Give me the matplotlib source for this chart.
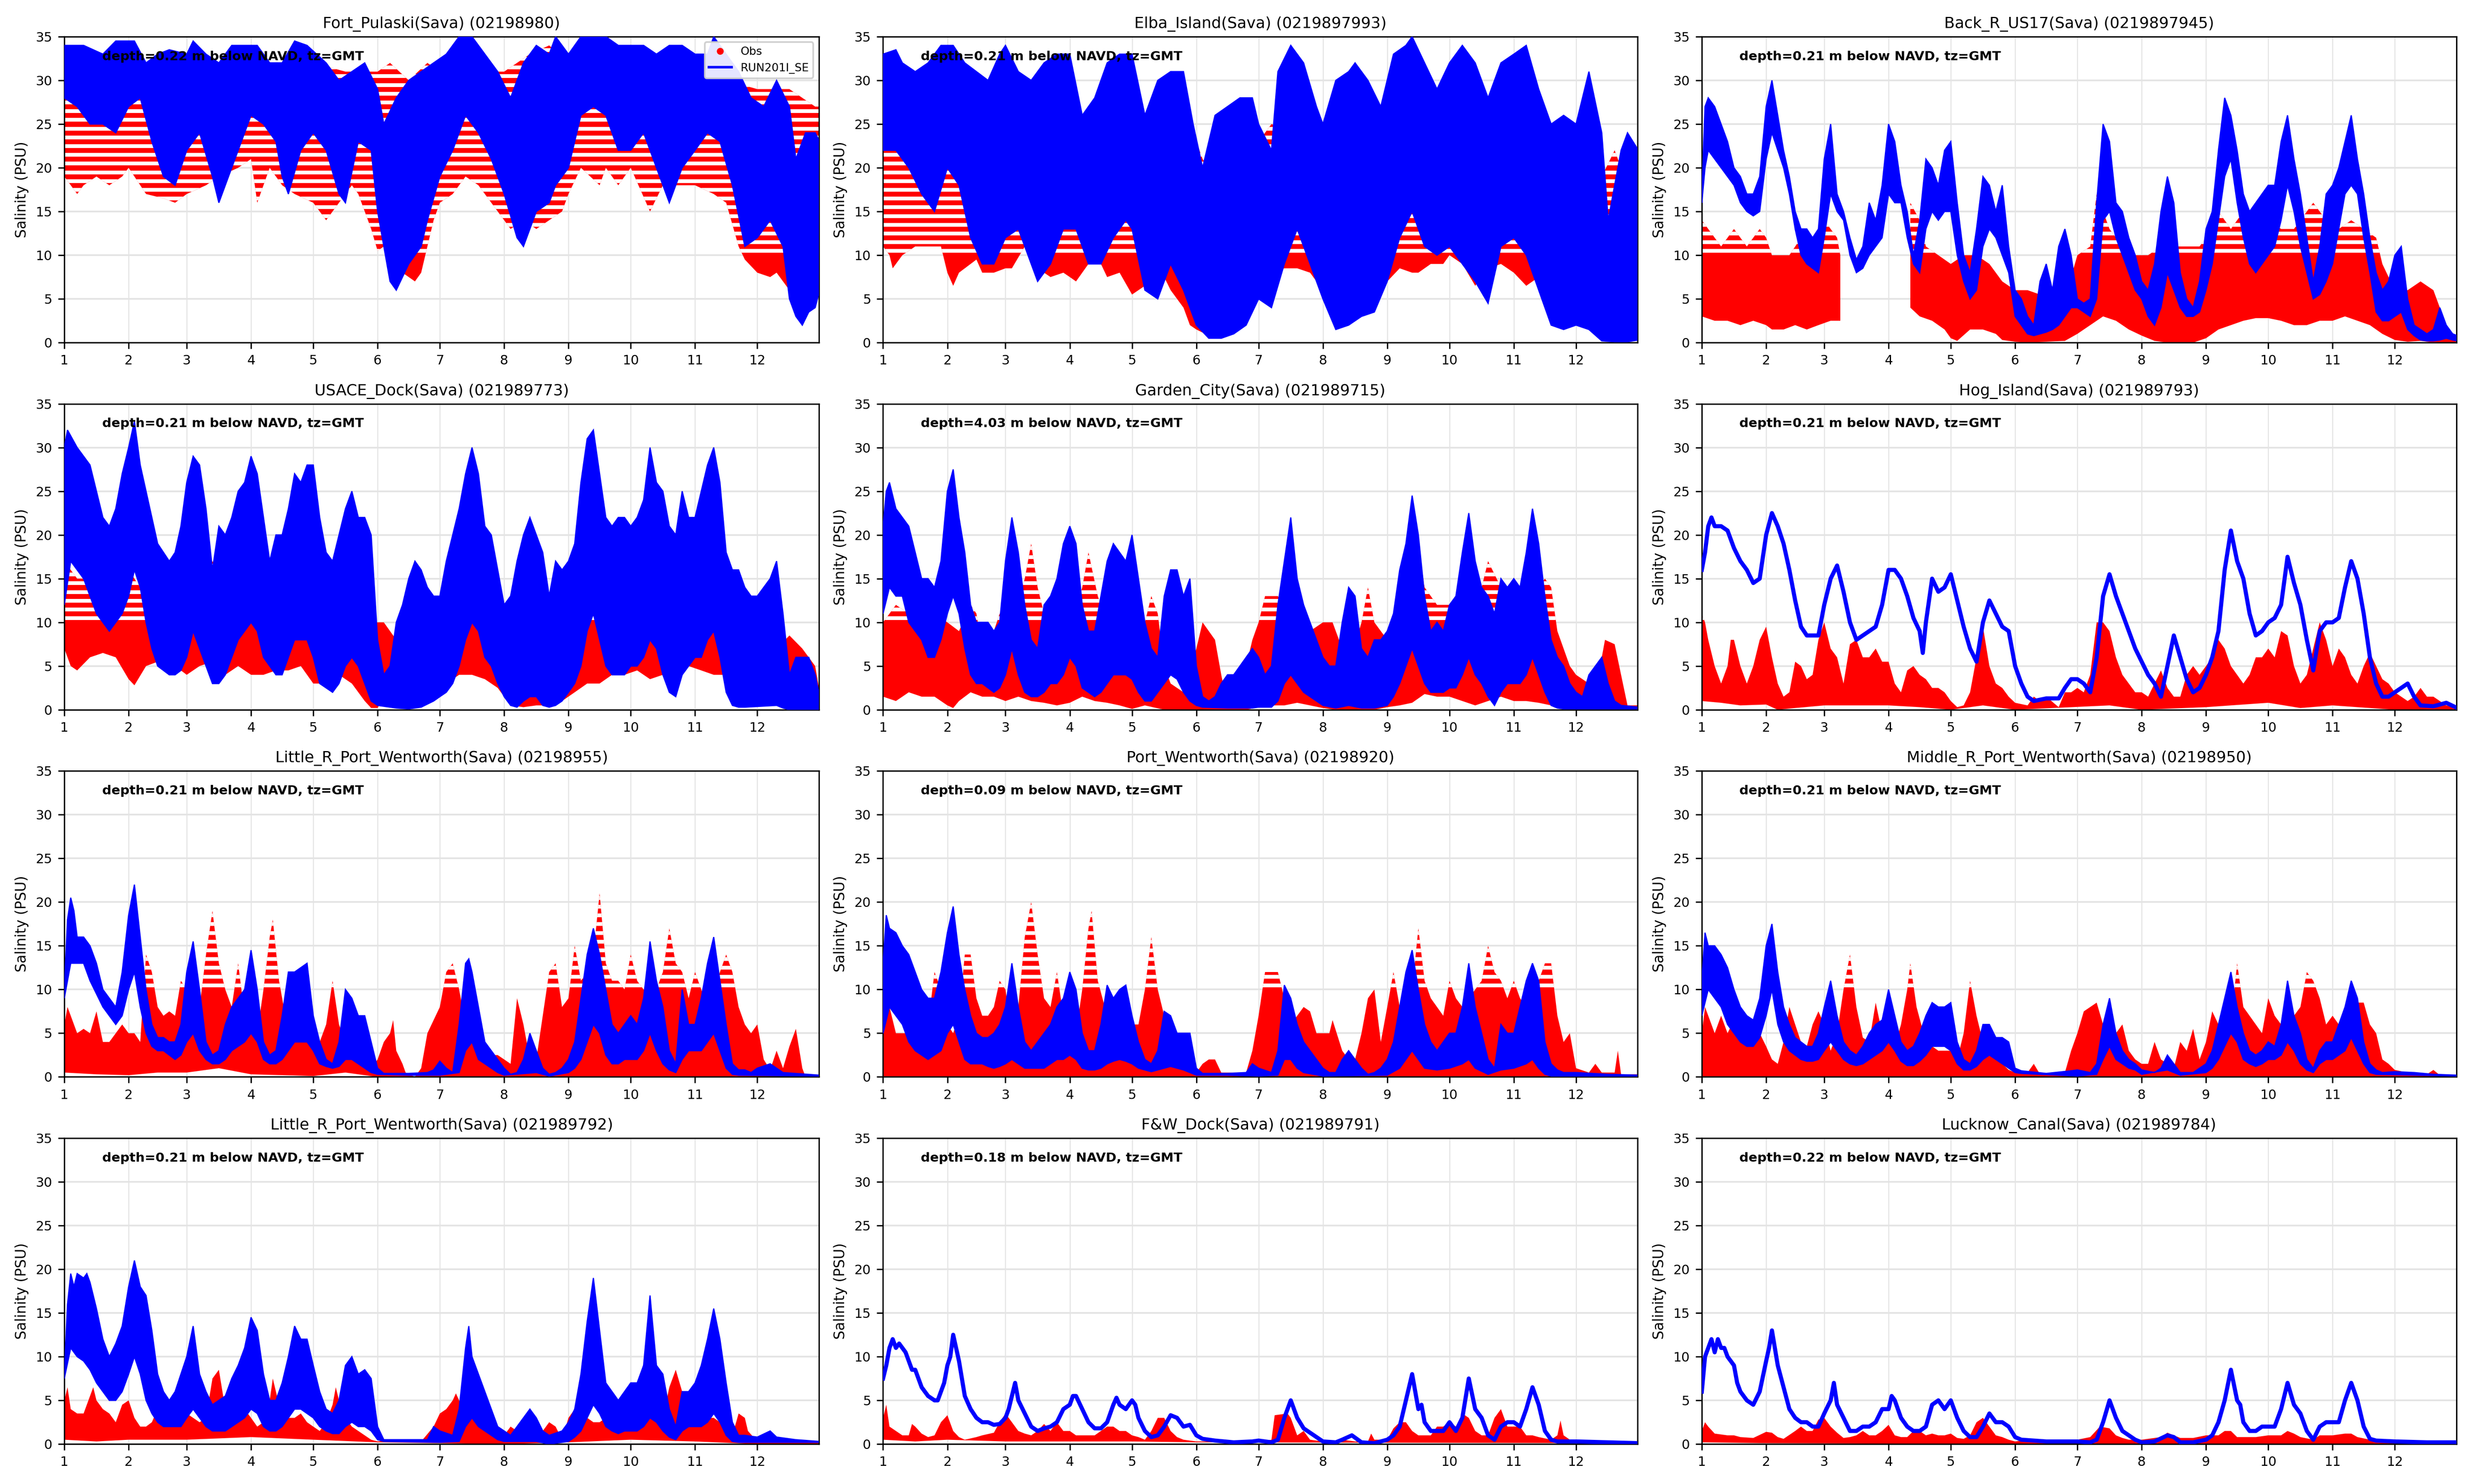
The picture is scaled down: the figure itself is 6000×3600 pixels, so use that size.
import numpy as np
import matplotlib
matplotlib.use("Agg")
import matplotlib.pyplot as plt
from matplotlib.patches import Polygon
from matplotlib.collections import LineCollection
from matplotlib.lines import Line2D

plt.rcParams['font.family'] = ['DejaVu Sans']

# ---------------- axis / label data ----------------
MONTH_LABELS = [str(m) for m in range(1, 13)]
MONTH_START_DAY = [0, 31, 59, 90, 120, 151, 181, 212, 243, 273, 304, 334, 365]
X_END_DAY = 363.7
Y_TICKS = [0, 5, 10, 15, 20, 25, 30, 35]

TITLES = ["Fort_Pulaski(Sava) (02198980)", "Elba_Island(Sava) (0219897993)", "Back_R_US17(Sava) (0219897945)",
          "USACE_Dock(Sava) (021989773)", "Garden_City(Sava) (021989715)", "Hog_Island(Sava) (021989793)",
          "Little_R_Port_Wentworth(Sava) (02198955)", "Port_Wentworth(Sava) (02198920)",
          "Middle_R_Port_Wentworth(Sava) (02198950)",
          "Little_R_Port_Wentworth(Sava) (021989792)", "F&W_Dock(Sava) (021989791)", "Lucknow_Canal(Sava) (021989784)"]
DEPTHS = [0.22, 0.21, 0.21, 0.21, 4.03, 0.21, 0.21, 0.09, 0.21, 0.21, 0.18, 0.22]
OBS_LABEL = "Obs"
MODEL_LABEL = "RUN201I_SE"

# ---------------- series data: (month, PSU) envelope points ----------------
# 1 Fort Pulaski
FP_OBS_HI = [(1.0,30),(1.5,30),(2.0,30),(2.3,29),(3.0,29),(3.5,30),(4.0,34),(4.1,31),(4.5,31),(5.0,32),(5.5,31),(6.0,31),(6.2,32),(6.5,30),(6.8,32),(7.0,31),(7.5,31),(8.0,31),(8.4,33),(8.7,34),(9.0,32),(9.5,33),(10.0,34),(10.5,32),(11.0,31),(11.5,30),(12.0,29),(12.5,29),(12.9,27),(12.97,27)]
FP_OBS_LO = [(1.0,19),(1.2,17),(1.3,18),(1.5,19),(1.7,18),(1.9,19),(2.0,20),(2.3,17),(2.6,16.5),(2.8,16),(3.0,17),(3.3,18),(3.5,19),(3.8,20),(4.0,21),(4.1,16),(4.3,20),(4.5,18),(4.7,17),(5.0,16),(5.1,15),(5.2,14),(5.4,16),(5.6,18),(5.7,17),(5.8,15),(5.9,13),(6.0,10.5),(6.1,11),(6.4,8),(6.6,7),(6.7,8),(6.8,11),(6.9,14),(7.0,16),(7.2,17),(7.4,19),(7.6,18),(7.8,16),(8.0,14),(8.1,13),(8.3,14),(8.5,13),(8.7,14),(8.9,15),(9.0,17),(9.2,20),(9.5,18),(9.6,20),(9.8,18),(10.0,20),(10.3,15),(10.5,18),(10.8,18),(11.0,18),(11.3,17),(11.5,16),(11.7,11),(11.8,9.5),(12.0,8),(12.2,7.5),(12.3,8),(12.5,6),(12.7,5),(12.85,4.5),(12.97,5.5)]
FP_MOD_HI = [(1.0,34),(1.3,34),(1.6,33),(1.8,34.5),(2.1,34.5),(2.3,32),(2.5,33),(2.7,33.5),(3.0,33),(3.1,34.5),(3.3,33),(3.5,32),(3.7,34),(3.9,34),(4.1,34),(4.3,32),(4.5,32),(4.7,34.5),(4.9,34),(5.2,32),(5.4,30),(5.6,31),(5.8,32),(6.0,29),(6.1,25),(6.3,28),(6.5,30),(6.7,31),(6.9,32),(7.1,33),(7.3,35),(7.5,35),(7.7,33),(7.9,31),(8.1,28),(8.3,32),(8.5,34),(8.7,33),(8.8,35),(9.0,33),(9.2,35),(9.4,35),(9.6,35),(9.8,34),(10.0,34),(10.2,34),(10.4,33),(10.6,34),(10.8,34),(11.0,33),(11.2,33),(11.3,35),(11.5,33),(11.7,31),(11.9,28),(12.1,27),(12.3,30),(12.5,27),(12.6,21),(12.75,24),(12.9,24),(12.97,23)]
FP_MOD_LO = [(1.0,28),(1.2,27),(1.4,25),(1.6,25),(1.8,24),(2.0,27),(2.2,28),(2.4,23),(2.6,19),(2.8,18),(3.0,22),(3.2,24),(3.4,19),(3.5,16),(3.7,20),(3.9,24),(4.0,26),(4.2,25),(4.4,23),(4.5,19),(4.6,17),(4.8,22),(5.0,24),(5.2,22),(5.4,17),(5.5,16),(5.7,23),(5.9,22),(6.0,15),(6.2,7),(6.3,6),(6.5,9),(6.7,11),(6.8,14),(7.0,19),(7.2,22),(7.4,26),(7.6,24),(7.8,21),(8.0,17),(8.2,12),(8.3,11),(8.5,15),(8.7,16),(8.8,18),(9.0,20),(9.2,26),(9.4,27),(9.6,26),(9.8,22),(10.0,22),(10.2,24),(10.4,20),(10.6,16),(10.8,20),(11.0,22),(11.2,24),(11.4,23),(11.6,18),(11.8,11),(12.0,12),(12.2,14),(12.4,11),(12.5,5),(12.6,3),(12.7,2),(12.8,3.5),(12.9,4),(12.97,6)]

# 2 Elba Island
EI_OBS_HI = [(1.0,23),(1.5,23),(2.0,24),(2.2,24),(2.6,23),(3.0,24),(3.5,26),(4.0,24),(4.2,25),(4.6,23),(5.0,23),(5.3,23),(5.6,23),(6.0,23),(6.1,21),(6.2,20),(6.6,20),(6.8,22),(7.0,23),(7.2,25),(7.6,24),(8.0,24),(8.5,23),(9.0,22),(9.5,22),(10.0,24),(10.6,24),(11.0,23),(11.5,23),(11.7,22),(12.0,21),(12.4,19),(12.6,22),(12.75,19),(12.9,11),(12.97,10)]
EI_OBS_LO = [(1.0,11),(1.1,10),(1.15,8.5),(1.3,10),(1.5,11),(1.7,11),(1.9,11),(2.0,8),(2.1,6.5),(2.2,8),(2.4,9),(2.5,9.5),(2.6,8),(2.8,8),(3.0,8.5),(3.1,8.5),(3.3,11),(3.5,9),(3.6,8),(3.7,7.5),(3.9,8),(4.0,7.5),(4.1,7),(4.3,9),(4.5,9),(4.6,7.5),(4.8,8),(5.0,5.5),(5.1,6),(5.2,6.5),(5.5,7.5),(5.6,6),(5.8,4),(5.9,2),(6.0,1.5),(6.2,0.8),(6.4,0.8),(6.6,1),(6.8,2.5),(6.9,5),(7.0,6.5),(7.2,8),(7.4,8.5),(7.6,8.5),(7.8,8),(8.0,6),(8.1,4),(8.3,3.5),(8.5,3.5),(8.7,4.5),(8.8,5),(9.0,7),(9.2,8.5),(9.4,8),(9.5,8),(9.7,9),(9.9,9),(10.0,10),(10.2,9),(10.4,6.5),(10.6,8.5),(10.8,9),(11.0,8),(11.2,6.5),(11.4,7.5),(11.6,9),(11.8,3),(12.0,2),(12.2,1.5),(12.4,0.5),(12.6,0.3),(12.97,0.3)]
EI_MOD_HI = [(1.0,33),(1.2,33.5),(1.3,32),(1.5,31),(1.7,32),(1.9,34),(2.1,34),(2.3,32),(2.5,31),(2.7,30),(2.9,33),(3.0,34),(3.2,31),(3.4,30),(3.6,32),(3.8,33),(4.0,33),(4.2,26),(4.4,28),(4.6,32),(4.8,33),(5.0,33),(5.2,26),(5.4,30),(5.6,31),(5.8,31),(5.95,25),(6.1,20),(6.3,26),(6.5,27),(6.7,28),(6.9,28),(7.0,25),(7.2,22),(7.3,31),(7.5,34),(7.7,32),(7.9,27),(8.0,25),(8.2,30),(8.4,31),(8.5,32),(8.7,30),(8.9,27),(9.1,33),(9.3,34),(9.4,35),(9.6,32),(9.8,29),(10.0,32),(10.2,34),(10.4,32),(10.6,28),(10.8,32),(11.0,33),(11.2,34),(11.4,29),(11.6,25),(11.8,26),(12.0,25),(12.2,31),(12.4,24),(12.5,14),(12.7,22),(12.8,24),(12.97,22)]
EI_MOD_LO = [(1.0,22),(1.2,22),(1.4,20),(1.6,17),(1.8,15),(2.0,20),(2.2,18),(2.4,12),(2.6,9),(2.8,9),(3.0,12),(3.2,13),(3.4,9),(3.5,7),(3.7,9),(3.9,13),(4.1,13),(4.3,9),(4.5,9),(4.7,12),(4.9,14),(5.0,13),(5.2,6),(5.4,5),(5.6,9),(5.8,6),(6.0,2),(6.2,0.5),(6.4,0.5),(6.6,1),(6.8,2),(7.0,5),(7.2,4),(7.4,9),(7.6,13),(7.8,9),(8.0,5),(8.2,1.5),(8.4,2),(8.6,3),(8.8,3.5),(9.0,7),(9.2,12),(9.4,15),(9.6,11),(9.8,10),(10.0,11),(10.2,9),(10.4,7),(10.6,4.5),(10.8,11),(11.0,12),(11.2,10),(11.4,6),(11.6,2),(11.8,1.5),(12.0,2),(12.2,1.5),(12.4,0.2),(12.6,0.1),(12.8,0.1),(12.97,0.3)]

# 3 Back R US17 (obs has a gap between the two segments)
BR_OBS_HI_1 = [(1.0,14),(1.1,13),(1.3,11),(1.5,13),(1.7,11),(1.9,13),(2.0,12),(2.1,10),(2.4,10),(2.6,12),(2.8,12),(3.0,14),(3.2,12),(3.25,10)]
BR_OBS_LO_1 = [(1.0,3),(1.2,2.5),(1.4,2.5),(1.6,2),(1.8,2.5),(2.0,2),(2.1,1.5),(2.3,1.5),(2.5,2),(2.7,1.5),(2.9,2),(3.1,2.5),(3.25,2.5)]
BR_OBS_HI_2 = [(4.35,16),(4.5,14),(4.6,11),(4.8,10),(5.0,9),(5.2,10),(5.4,10),(5.6,9),(5.8,7),(6.0,6),(6.2,6),(6.4,5.5),(6.6,5),(6.8,5),(7.0,10),(7.2,11),(7.3,17),(7.5,13),(7.7,11),(7.9,10),(8.1,10),(8.3,11),(8.5,11),(8.7,11),(8.9,11),(9.0,12),(9.2,15),(9.4,13),(9.6,15),(9.8,13),(10.0,14),(10.2,13),(10.4,13),(10.6,15),(10.7,16),(10.9,14),(11.1,13),(11.3,14),(11.5,13),(11.7,12),(11.8,9),(12.0,6),(12.2,6),(12.4,7),(12.6,6),(12.7,4),(12.8,2),(12.9,1),(12.97,0.8)]
BR_OBS_LO_2 = [(4.35,4),(4.5,3),(4.7,2.5),(4.9,1.5),(5.0,0.5),(5.1,0.2),(5.3,1.5),(5.5,1.5),(5.7,1),(5.8,0.3),(6.0,0.1),(6.2,0),(6.8,0.2),(7.0,1),(7.2,2),(7.4,3),(7.6,2.5),(7.8,1.5),(8.0,0.8),(8.2,0.2),(8.4,0),(8.8,0),(9.0,0.5),(9.2,1.5),(9.4,2),(9.6,2.5),(9.8,2.8),(10.0,2.8),(10.2,2.5),(10.4,2),(10.6,2),(10.8,2.5),(11.0,2.5),(11.2,3),(11.4,2.5),(11.6,2),(11.8,1),(12.0,0.3),(12.2,0.1),(12.4,0.2),(12.6,0),(12.97,0)]
BR_MOD_HI = [(1.0,17),(1.05,27),(1.1,28),(1.2,27),(1.3,25),(1.4,23),(1.5,20),(1.6,19),(1.7,17),(1.8,17),(1.9,19),(2.0,27),(2.1,30),(2.2,26),(2.3,22),(2.4,19),(2.5,15),(2.6,13),(2.7,13),(2.8,12),(2.9,13),(3.0,21),(3.1,25),(3.2,17),(3.3,15),(3.4,12),(3.5,9.5),(3.6,11),(3.7,16),(3.8,14),(3.9,18),(4.0,25),(4.1,23),(4.2,18),(4.3,15),(4.4,10),(4.5,14),(4.6,21),(4.7,20),(4.8,18),(4.9,22),(5.0,23),(5.1,16),(5.2,10),(5.3,8),(5.4,13),(5.5,19),(5.6,18),(5.7,15),(5.8,18),(5.9,11),(6.0,6),(6.1,5),(6.2,3),(6.3,2),(6.4,7),(6.5,9),(6.6,6),(6.7,11),(6.8,13),(6.9,10),(7.0,5),(7.1,4.5),(7.2,5),(7.3,16),(7.4,25),(7.5,23),(7.6,16),(7.7,15),(7.8,12),(7.9,10),(8.0,7),(8.1,6),(8.2,9),(8.3,15),(8.4,19),(8.5,16),(8.6,8),(8.7,5),(8.8,4),(8.9,7),(9.0,13),(9.1,15),(9.2,22),(9.3,28),(9.4,26),(9.5,22),(9.6,17),(9.7,15),(9.8,16),(9.9,17),(10.0,18),(10.1,18),(10.2,23),(10.3,26),(10.4,21),(10.5,17),(10.6,12),(10.7,7),(10.8,11),(10.9,17),(11.0,18),(11.1,20),(11.2,23),(11.3,26),(11.4,21),(11.5,17),(11.6,12),(11.7,8),(11.8,6),(11.9,7),(12.0,10),(12.1,11),(12.2,5),(12.3,2),(12.4,1.5),(12.5,1),(12.6,1.5),(12.7,4),(12.8,2),(12.9,1),(12.97,0.8)]
BR_MOD_LO = [(1.0,16),(1.05,20),(1.1,22),(1.2,21),(1.3,20),(1.4,19),(1.5,18),(1.6,16),(1.7,15),(1.8,14.5),(1.9,15),(2.0,21),(2.1,24),(2.2,22),(2.3,20),(2.4,17),(2.5,13),(2.6,10),(2.7,9),(2.8,8.5),(2.9,8),(3.0,12),(3.1,17),(3.2,15),(3.3,14),(3.4,10),(3.5,8),(3.6,8.5),(3.7,10),(3.8,11),(3.9,12),(4.0,17),(4.1,16),(4.2,16),(4.3,12),(4.4,9),(4.5,8),(4.6,13),(4.7,15),(4.8,14),(4.9,15),(5.0,15),(5.1,10),(5.2,7),(5.3,5),(5.4,6),(5.5,11),(5.6,13),(5.7,12),(5.8,10),(5.9,8),(6.0,3),(6.1,2),(6.2,1),(6.3,0.8),(6.4,1),(6.5,1.2),(6.6,1.5),(6.7,2),(6.8,3),(6.9,4),(7.0,4),(7.1,3.5),(7.2,3),(7.3,5),(7.4,14),(7.5,15),(7.6,12),(7.7,10),(7.8,8),(7.9,6),(8.0,5),(8.1,3),(8.2,2),(8.3,4),(8.4,8),(8.5,6),(8.6,4),(8.7,3),(8.8,3),(8.9,3.5),(9.0,6),(9.1,9),(9.2,14),(9.3,19),(9.4,21),(9.5,16),(9.6,12),(9.7,9),(9.8,8),(9.9,9),(10.0,10),(10.1,11),(10.2,14),(10.3,18),(10.4,15),(10.5,11),(10.6,8),(10.7,5),(10.8,5.5),(10.9,7),(11.0,9),(11.1,13),(11.2,17),(11.3,18),(11.4,17),(11.5,12),(11.6,8),(11.7,3.5),(11.8,2.5),(11.9,2.5),(12.0,3),(12.1,3.5),(12.2,1.5),(12.3,0.8),(12.4,0.3),(12.5,0.2),(12.6,0.2),(12.7,0.3),(12.8,0.5),(12.9,0.3),(12.97,0.2)]

# 4 USACE Dock
UD_OBS_HI = [(1.0,17),(1.2,15),(1.4,15),(1.6,13),(1.9,14),(2.0,16),(2.2,14),(2.4,12),(2.6,12),(2.8,13),(3.0,12),(3.2,12),(3.4,17),(3.6,15),(3.8,12),(4.0,13),(4.2,14),(4.35,17),(4.5,14),(4.8,14),(5.1,13),(5.3,17),(5.4,18),(5.6,13),(5.8,10),(6.0,10),(6.1,10),(6.3,8),(6.5,7),(6.8,10),(7.0,12),(7.2,17),(7.4,14),(7.6,12),(7.8,11),(8.0,9),(8.2,10),(8.4,10),(8.6,11),(8.8,11),(9.0,13),(9.2,14),(9.4,15),(9.6,16),(9.8,14),(10.0,13),(10.2,14),(10.4,15),(10.6,17),(10.7,18),(10.9,15),(11.1,14),(11.3,15),(11.5,14),(11.7,12),(11.9,9),(12.1,8),(12.3,7),(12.5,8.5),(12.7,7),(12.9,5),(12.97,2)]
UD_OBS_LO = [(1.0,7),(1.1,5),(1.2,4.5),(1.4,6),(1.6,6.5),(1.8,6),(2.0,3.5),(2.1,2.8),(2.3,5),(2.5,5.5),(2.7,5),(2.9,4.5),(3.0,4),(3.2,5),(3.4,5.5),(3.6,4),(3.8,5),(4.0,4),(4.2,4),(4.4,4.5),(4.6,4.5),(4.8,5),(5.0,3),(5.2,3),(5.4,4),(5.6,3),(5.8,1),(5.9,0.2),(6.0,0.2),(6.1,1.5),(6.3,0.5),(6.5,0.2),(6.7,0.5),(6.9,1),(7.1,3),(7.3,4),(7.5,4),(7.7,3.5),(7.9,2.5),(8.1,0.5),(8.3,0.3),(8.5,0.5),(8.7,0.5),(8.9,1),(9.1,2),(9.3,3),(9.5,3),(9.7,4),(9.9,4),(10.1,4.5),(10.3,3.5),(10.5,4),(10.7,5),(10.9,5),(11.1,4.5),(11.3,4),(11.5,4),(11.7,2),(11.9,1),(12.1,1),(12.3,1.5),(12.5,1.5),(12.7,1),(12.9,0.3),(12.97,0.3)]
UD_MOD_HI = [(1.0,30),(1.05,32),(1.2,30),(1.4,28),(1.6,22),(1.7,21),(1.8,23),(1.9,27),(2.0,30),(2.1,33),(2.2,28),(2.3,25),(2.4,22),(2.5,19),(2.6,18),(2.7,17),(2.8,18),(2.9,21),(3.0,26),(3.1,29),(3.2,28),(3.3,23),(3.4,16),(3.5,21),(3.6,20),(3.7,22),(3.8,25),(3.9,26),(4.0,29),(4.1,27),(4.2,22),(4.3,17),(4.4,20),(4.5,20),(4.6,23),(4.7,27),(4.8,26),(4.9,28),(5.0,28),(5.1,22),(5.2,18),(5.3,17),(5.5,23),(5.6,25),(5.7,22),(5.8,22),(5.9,20),(6.0,8),(6.1,4),(6.2,5),(6.3,10),(6.4,12),(6.5,15),(6.6,17),(6.7,16),(6.8,14),(6.9,13),(7.0,13),(7.1,17),(7.2,20),(7.3,23),(7.4,27),(7.5,30),(7.6,27),(7.7,21),(7.8,20),(7.9,16),(8.0,12),(8.1,13),(8.2,17),(8.3,20),(8.4,22),(8.5,20),(8.6,18),(8.7,13),(8.8,17),(8.9,16),(9.0,17),(9.1,19),(9.2,26),(9.3,31),(9.4,32),(9.5,27),(9.6,22),(9.7,21),(9.8,22),(9.9,22),(10.0,21),(10.1,22),(10.2,24),(10.3,30),(10.4,26),(10.5,25),(10.6,21),(10.7,20),(10.8,25),(10.9,22),(11.0,22),(11.1,25),(11.2,28),(11.3,30),(11.4,26),(11.5,18),(11.6,16),(11.7,16),(11.8,14),(11.9,13),(12.0,13),(12.1,14),(12.2,15),(12.3,17),(12.4,11),(12.5,4),(12.6,6),(12.7,6),(12.8,6),(12.9,4),(12.97,1.5)]
UD_MOD_LO = [(1.0,12),(1.1,17),(1.2,16),(1.3,15),(1.4,13),(1.5,11),(1.6,10),(1.7,9),(1.8,10),(1.9,11),(2.0,13),(2.1,16),(2.2,14),(2.3,10),(2.4,7),(2.5,5),(2.6,4.5),(2.7,4),(2.8,4),(2.9,4.5),(3.0,6),(3.1,9),(3.2,7),(3.3,5),(3.4,3),(3.5,3),(3.6,4),(3.7,6),(3.8,8),(3.9,9),(4.0,10),(4.1,9),(4.2,6),(4.3,5),(4.4,4),(4.5,4),(4.6,6),(4.7,8),(4.8,8),(4.9,8),(5.0,6),(5.1,3),(5.2,2.5),(5.3,2),(5.4,3),(5.5,5),(5.6,6),(5.7,5),(5.8,3),(5.9,1),(6.0,0.5),(6.1,0.4),(6.2,0.3),(6.3,0.2),(6.5,0.1),(6.7,0.3),(6.9,1),(7.0,1.5),(7.1,2),(7.2,3),(7.3,5),(7.4,8),(7.5,10),(7.6,9),(7.7,6),(7.8,5),(7.9,3),(8.0,1.5),(8.1,0.5),(8.2,0.3),(8.3,1),(8.4,1.5),(8.5,1.5),(8.6,0.5),(8.7,0.3),(8.8,0.5),(8.9,1),(9.0,2),(9.1,3),(9.2,5),(9.3,9),(9.4,11),(9.5,8),(9.6,5),(9.7,4),(9.8,4),(9.9,4),(10.0,5),(10.1,5),(10.2,6),(10.3,8),(10.4,7),(10.5,4),(10.6,2),(10.7,1.5),(10.8,4),(10.9,5),(11.0,6),(11.1,6),(11.2,8),(11.3,9),(11.4,6),(11.5,2),(11.6,0.5),(11.7,0.3),(11.8,0.3),(12.3,0.5),(12.4,0.2),(12.5,0),(12.97,0)]

# 5 Garden City
GC_OBS_HI = [(1.0,10),(1.2,12),(1.4,11),(1.6,11),(1.8,11),(2.0,10),(2.2,9),(2.4,12),(2.5,11),(2.6,7),(2.8,9),(2.9,11),(3.1,10),(3.3,15),(3.4,19),(3.5,14),(3.6,11),(3.8,10),(4.0,9),(4.2,14),(4.3,18),(4.45,13),(4.6,10),(4.8,9),(5.0,7),(5.2,10),(5.3,13),(5.4,11),(5.5,5),(5.6,3),(5.8,2),(6.0,7),(6.1,10),(6.2,9),(6.3,8),(6.4,4),(6.5,0.5),(6.7,3),(6.8,5),(6.9,8),(7.0,10),(7.1,13),(7.3,13),(7.5,11),(7.6,10),(7.8,9),(8.0,10),(8.15,10),(8.3,7),(8.4,5),(8.6,10),(8.7,14),(8.8,10),(9.0,8),(9.1,11),(9.3,10),(9.5,19),(9.6,14),(9.8,12),(10.0,12),(10.2,12),(10.4,9),(10.5,14),(10.6,17),(10.8,14),(11.0,11),(11.2,12),(11.5,15),(11.6,14),(11.7,9),(11.8,7),(11.9,5),(12.0,4),(12.2,3),(12.4,6),(12.45,8),(12.6,7.5),(12.7,4),(12.8,0.5),(12.97,0.5)]
GC_OBS_LO = [(1.0,1.5),(1.2,1),(1.4,2),(1.6,1.5),(1.8,1.5),(2.0,0.5),(2.1,0.2),(2.2,1),(2.4,2),(2.6,1.5),(2.8,1.5),(3.0,1),(3.2,1.5),(3.4,1),(3.6,0.8),(3.8,0.5),(4.0,0.8),(4.2,1.5),(4.4,1),(4.6,0.8),(4.8,0.5),(5.0,0.1),(5.2,0.5),(5.5,0),(6.8,0),(7.0,0.3),(7.2,0.5),(7.4,0.5),(7.6,0.8),(7.8,0.5),(8.0,0.2),(8.2,0),(8.8,0),(9.0,0.3),(9.2,0.5),(9.4,0.8),(9.6,1.8),(9.8,1.5),(10.0,1.5),(10.2,1),(10.4,0.5),(10.6,1),(10.8,1.5),(11.0,1),(11.2,1),(11.4,0.8),(11.6,0.5),(11.8,0.2),(12.0,0),(12.97,0)]
GC_MOD_HI = [(1.0,21),(1.05,25),(1.1,26),(1.2,23),(1.3,22),(1.4,21),(1.5,18),(1.6,15),(1.7,15),(1.8,14),(1.9,17),(2.0,25),(2.1,27.5),(2.2,22),(2.3,18),(2.4,12),(2.5,10),(2.6,10),(2.7,10),(2.8,9),(2.9,10),(3.0,17),(3.1,22),(3.2,18),(3.3,12),(3.4,8),(3.5,7),(3.6,12),(3.7,13),(3.8,15),(3.9,19),(4.0,21),(4.1,19),(4.2,12),(4.3,9),(4.4,9),(4.5,13),(4.6,17),(4.7,19),(4.8,18),(4.9,17),(5.0,20),(5.1,15),(5.2,10),(5.3,7),(5.4,6),(5.5,13),(5.6,16),(5.7,16),(5.8,13),(5.9,15),(6.0,5),(6.1,1.5),(6.2,1),(6.3,1.5),(6.4,3),(6.5,4),(6.6,4),(6.7,5),(6.8,6),(6.9,7),(7.0,6),(7.1,4),(7.2,5),(7.3,12),(7.4,17),(7.5,22),(7.6,15),(7.7,12),(7.8,10),(7.9,8),(8.0,6),(8.1,5),(8.2,5),(8.3,10),(8.4,14),(8.5,13),(8.6,7),(8.7,6),(8.8,8),(8.9,8),(9.0,9),(9.1,11),(9.2,16),(9.3,19),(9.4,24.5),(9.5,20),(9.6,13),(9.7,9),(9.8,10),(9.9,9),(10.0,12),(10.1,13),(10.2,18),(10.3,22.5),(10.4,17),(10.5,14),(10.6,13),(10.7,11),(10.8,15),(10.9,14),(11.0,15),(11.1,14),(11.2,18),(11.3,23),(11.4,19),(11.5,13),(11.6,8),(11.7,6),(11.8,5),(11.9,3),(12.0,2),(12.1,1.5),(12.2,4),(12.3,5),(12.4,6),(12.5,3),(12.6,1),(12.7,0.5),(12.97,0.3)]
GC_MOD_LO = [(1.0,11),(1.1,14),(1.2,13),(1.3,13),(1.4,10),(1.5,9),(1.6,8),(1.7,6),(1.8,6),(1.9,8),(2.0,11),(2.1,13),(2.2,11),(2.3,7),(2.4,4),(2.5,3),(2.6,3),(2.7,2.5),(2.8,2),(2.9,2.5),(3.0,4),(3.1,7),(3.2,4),(3.3,2),(3.4,1.5),(3.5,1.5),(3.6,2),(3.7,3),(3.8,3),(3.9,4),(4.0,6),(4.1,5),(4.2,2.5),(4.3,2),(4.4,1.5),(4.5,2),(4.6,3),(4.7,4),(4.8,4),(4.9,4),(5.0,3.5),(5.1,2),(5.2,1),(5.3,1),(5.4,2),(5.5,3),(5.6,4),(5.7,3.5),(5.8,2),(5.9,1),(6.0,0.5),(6.1,0.3),(6.5,0.2),(6.9,0.2),(7.0,0.3),(7.2,0.3),(7.3,1),(7.4,3),(7.5,4),(7.6,3),(7.7,2),(7.8,1.5),(7.9,1),(8.0,0.5),(8.2,0.2),(8.4,0.5),(8.6,0.2),(8.8,0.2),(9.0,0.5),(9.1,1.5),(9.2,3),(9.3,5),(9.4,7),(9.5,5),(9.6,3),(9.7,2),(9.8,2),(9.9,2),(10.0,2.5),(10.1,2.5),(10.2,4),(10.3,6),(10.4,4),(10.5,3),(10.6,1.5),(10.7,0.5),(10.8,2),(10.9,3),(11.0,3),(11.1,3),(11.2,4),(11.3,6),(11.4,4),(11.5,2),(11.6,0.5),(11.7,0.2),(11.8,0.1),(12.97,0.1)]

# 6 Hog Island (model drawn as a line)
HI_OBS_HI = [(1.0,11),(1.05,10),(1.1,8),(1.2,5),(1.3,3),(1.4,5),(1.45,8),(1.5,8),(1.6,5),(1.7,3),(1.8,5),(1.9,8),(2.0,9.5),(2.1,6),(2.2,3),(2.3,1.5),(2.4,2),(2.5,5.5),(2.6,5),(2.7,3.5),(2.8,4),(2.9,8),(3.0,10),(3.1,7),(3.2,6),(3.3,3),(3.4,7.5),(3.5,8),(3.6,6),(3.7,6),(3.8,7),(3.9,5.5),(4.0,5.5),(4.1,3),(4.2,2),(4.3,4.5),(4.4,5),(4.5,4),(4.6,3.5),(4.7,2.5),(4.8,2.5),(4.9,2),(5.0,1),(5.1,0.3),(5.2,0.5),(5.3,2),(5.4,6),(5.5,9.5),(5.6,5),(5.7,3),(5.8,2.5),(5.9,1.5),(6.0,0.8),(6.2,0.5),(6.3,1.5),(6.4,1),(6.5,1.5),(6.7,0.3),(6.8,2),(6.9,2),(7.0,2.5),(7.1,2),(7.2,4),(7.3,10),(7.4,10),(7.5,9),(7.6,6),(7.7,4),(7.8,3),(7.9,2),(8.0,2),(8.1,1.5),(8.2,3),(8.3,4.5),(8.4,2.5),(8.5,1.5),(8.6,1.5),(8.7,4),(8.8,5),(8.9,4),(9.0,5),(9.1,6),(9.2,8),(9.3,7),(9.4,5),(9.5,4),(9.6,3),(9.7,4),(9.8,6),(9.9,6),(10.0,7),(10.1,6),(10.2,9),(10.3,8.5),(10.4,5),(10.5,3),(10.6,4),(10.7,7),(10.8,10),(10.9,8),(11.0,5),(11.1,7),(11.2,6),(11.3,4),(11.4,3),(11.5,5),(11.6,6.5),(11.7,5),(11.8,3.5),(11.9,3),(12.0,2),(12.1,1.5),(12.2,1),(12.3,1.5),(12.4,2.5),(12.5,1.5),(12.6,1.5),(12.7,1),(12.8,0.5),(12.97,0.2)]
HI_OBS_LO = [(1.0,1),(1.3,0.8),(1.6,0.5),(2.0,0.6),(2.2,0),(2.5,0.2),(3.0,0.5),(3.5,0.5),(4.0,0.5),(4.5,0.3),(5.0,0),(5.5,0.5),(6.0,0),(7.5,0.5),(8.0,0),(9.0,0.3),(10.0,0.8),(10.5,0.2),(11.0,0.5),(12.0,0),(12.97,0)]
HI_MOD = [(1.0,16),(1.05,18),(1.1,21),(1.15,22),(1.2,21),(1.3,21),(1.4,20.5),(1.5,18.5),(1.6,17),(1.7,16),(1.8,14.5),(1.9,15),(2.0,20),(2.1,22.5),(2.2,21),(2.3,19),(2.4,16),(2.5,12.5),(2.6,9.5),(2.7,8.5),(2.8,8.5),(2.9,8.5),(3.0,12),(3.1,15),(3.2,16.5),(3.3,13.5),(3.4,10),(3.5,8),(3.6,8.5),(3.7,9),(3.8,9.5),(3.9,12),(4.0,16),(4.1,16),(4.2,15),(4.3,13),(4.4,10.5),(4.5,9),(4.55,6.5),(4.6,10),(4.7,15),(4.8,13.5),(4.9,14),(5.0,15.5),(5.1,12.5),(5.2,9.5),(5.3,7),(5.4,5.5),(5.5,10),(5.6,12.5),(5.7,11),(5.8,9.5),(5.9,9),(6.0,5),(6.1,3),(6.2,1.5),(6.3,1),(6.5,1.3),(6.7,1.3),(6.8,2.5),(6.9,3.5),(7.0,3.5),(7.1,3),(7.2,2),(7.3,6),(7.4,13),(7.5,15.5),(7.6,13),(7.7,11),(7.8,9),(7.9,7),(8.0,5.5),(8.1,4),(8.2,3),(8.3,1.5),(8.4,5),(8.5,8.5),(8.6,6),(8.7,3.5),(8.8,2),(8.9,2.5),(9.0,4),(9.1,6),(9.2,9),(9.3,16),(9.4,20.5),(9.5,17),(9.6,15),(9.7,11),(9.8,8.5),(9.9,9),(10.0,10),(10.1,10.5),(10.2,12),(10.3,17.5),(10.4,14.5),(10.5,12),(10.6,8),(10.7,4.5),(10.8,9),(10.9,10),(11.0,10),(11.1,10.5),(11.2,14),(11.3,17),(11.4,15),(11.5,11),(11.6,6),(11.7,3),(11.8,1.5),(11.9,1.5),(12.0,2),(12.1,2.5),(12.2,3),(12.3,1.5),(12.4,0.5),(12.6,0.4),(12.8,0.8),(12.97,0.2)]

# 7 Little R Port Wentworth (02198955)
LR1_OBS_HI = [(1.0,6),(1.05,8),(1.1,7),(1.2,5),(1.3,5.5),(1.4,5),(1.5,7.5),(1.6,4),(1.7,4),(1.8,5),(1.9,6),(2.0,5),(2.1,5),(2.2,4),(2.3,14),(2.4,12),(2.5,8),(2.6,7),(2.7,7.5),(2.8,7),(2.9,11),(3.0,10),(3.1,5),(3.2,8),(3.3,14),(3.4,19),(3.5,13),(3.6,10),(3.7,8),(3.8,13),(3.9,7),(4.0,6),(4.1,5),(4.2,10),(4.3,16),(4.35,18),(4.45,11),(4.6,5),(4.7,4.5),(4.8,4),(4.9,4.5),(5.0,4),(5.1,4),(5.2,6),(5.3,11),(5.4,6),(5.5,4),(5.6,3),(5.7,3),(5.8,2),(5.9,1),(6.0,2),(6.1,4),(6.2,5),(6.25,6.5),(6.3,3),(6.4,1.5),(6.45,0.5),(6.6,0),(6.7,1),(6.8,5),(6.9,6.5),(7.0,8),(7.1,12),(7.2,13),(7.3,10),(7.4,6),(7.5,4),(7.6,3),(7.7,2.5),(7.9,2.5),(8.0,2),(8.1,1.5),(8.2,9),(8.3,6),(8.4,2),(8.5,2),(8.6,7),(8.7,12),(8.8,13),(8.9,8),(9.0,9),(9.1,15),(9.2,11),(9.3,12),(9.4,14),(9.5,21),(9.6,13),(9.7,11),(9.8,11),(9.9,10),(10.0,14),(10.1,11),(10.2,10),(10.4,10),(10.5,12),(10.6,17),(10.7,13),(10.8,12),(10.9,9),(11.0,12),(11.1,10),(11.2,8),(11.3,9),(11.4,12),(11.5,14),(11.6,12),(11.7,8),(11.8,6),(11.9,5),(12.0,6),(12.1,2),(12.2,0.8),(12.3,3),(12.4,1),(12.5,3.5),(12.6,5.5),(12.7,1),(12.75,0),(12.97,0)]
LR1_OBS_LO = [(1.0,0.5),(1.5,0.3),(2.0,0.2),(2.5,0.5),(3.0,0.5),(3.5,1),(4.0,0.3),(4.5,0.2),(5.0,0.1),(5.5,0.5),(6.0,0),(12.97,0)]
LR1_MOD_HI = [(1.0,10),(1.05,18),(1.1,20.5),(1.15,19),(1.2,16),(1.3,16),(1.4,15),(1.5,13),(1.6,10),(1.7,9),(1.8,8),(1.9,12),(2.0,18.5),(2.1,22),(2.2,16),(2.3,10),(2.4,6),(2.5,4.5),(2.6,4.5),(2.7,4),(2.8,4),(2.9,6),(3.0,12),(3.1,15.5),(3.2,10),(3.3,4),(3.4,2.5),(3.5,3),(3.6,6),(3.7,8),(3.8,9),(3.9,10),(4.0,14.5),(4.1,10),(4.2,4),(4.3,2.5),(4.4,3),(4.5,7),(4.6,12),(4.7,12),(4.8,12.5),(4.9,13),(5.0,7),(5.1,4),(5.2,2),(5.3,1.5),(5.4,4),(5.5,10),(5.6,9),(5.7,7),(5.8,7),(5.9,4),(6.0,1),(6.1,0.4),(6.5,0.4),(6.8,0.5),(6.9,0.8),(7.0,1.8),(7.1,1),(7.2,0.5),(7.3,6),(7.4,13),(7.45,13.5),(7.5,12),(7.6,8),(7.7,4),(7.8,3),(7.9,2),(8.0,1),(8.1,0.3),(8.2,0.5),(8.3,2),(8.4,5),(8.5,3),(8.6,1),(8.7,0.3),(8.8,0.5),(8.9,1),(9.0,2),(9.1,4),(9.2,9),(9.3,14),(9.4,17),(9.5,14),(9.6,10),(9.7,6),(9.8,5),(9.9,6),(10.0,7),(10.1,6),(10.2,9),(10.3,15.5),(10.4,11),(10.5,8),(10.6,3),(10.7,1.5),(10.8,10),(10.9,6),(11.0,6),(11.1,9),(11.2,13),(11.3,16),(11.4,11),(11.5,6),(11.6,1.5),(11.7,0.8),(11.8,0.8),(11.9,0.5),(12.0,1),(12.2,1.5),(12.4,0.5),(12.97,0.2)]
LR1_MOD_LO = [(1.0,9),(1.1,13),(1.2,13),(1.3,13),(1.4,11),(1.5,9.5),(1.6,8),(1.7,7),(1.8,6),(1.9,7),(2.0,10),(2.1,12),(2.2,8),(2.3,5),(2.4,3.5),(2.5,3),(2.6,3),(2.7,2.5),(2.8,2),(2.9,2.5),(3.0,4),(3.1,5),(3.2,3),(3.3,2),(3.4,1.5),(3.5,1.5),(3.6,2),(3.7,3),(3.8,3.5),(3.9,4),(4.0,5),(4.1,4),(4.2,2),(4.3,1.5),(4.4,1.5),(4.5,2),(4.6,3),(4.7,4),(4.8,4),(4.9,4),(5.0,3),(5.1,1.5),(5.2,1.2),(5.3,1),(5.4,1.2),(5.5,2),(5.6,2),(5.7,1.5),(5.8,1),(5.9,0.5),(6.0,0.3),(6.5,0.2),(7.0,0.2),(7.3,0.5),(7.4,3),(7.5,4),(7.6,2),(7.7,1.5),(7.8,1),(7.9,0.5),(8.0,0.2),(8.5,0.5),(8.7,0.1),(9.0,0.5),(9.1,1),(9.2,2),(9.3,4),(9.4,6),(9.5,5),(9.6,2.5),(9.7,1.5),(9.8,1.5),(9.9,2),(10.0,2),(10.1,2),(10.2,3),(10.3,5),(10.4,3),(10.5,1.5),(10.6,0.8),(10.7,0.5),(10.8,2),(10.9,3),(11.0,3),(11.1,3),(11.2,4),(11.3,5),(11.4,3),(11.5,1),(11.6,0.3),(11.7,0.2),(12.97,0.1)]

# 8 Port Wentworth
PW_OBS_HI = [(1.0,6),(1.1,8),(1.2,5),(1.4,5),(1.6,3),(1.7,6),(1.8,12),(1.9,10),(2.0,6),(2.1,5),(2.2,7),(2.3,14),(2.4,14),(2.5,9),(2.6,7),(2.7,7),(2.8,8),(2.9,11),(3.0,10),(3.1,5),(3.2,8),(3.3,16),(3.4,20),(3.5,14),(3.6,9),(3.7,8),(3.8,12),(3.9,7),(4.0,5),(4.1,5),(4.2,10),(4.3,17),(4.35,19),(4.45,11),(4.6,7),(4.7,8),(4.8,9),(4.9,8),(5.0,6),(5.1,6),(5.2,10),(5.3,16),(5.4,10),(5.5,7),(5.6,4),(5.7,3),(5.8,2),(5.9,1),(6.0,0.5),(6.1,1.5),(6.2,2),(6.3,2),(6.4,0.5),(6.8,0.5),(6.9,3),(7.0,7),(7.1,12),(7.3,12),(7.4,9),(7.5,6),(7.6,7),(7.7,8),(7.8,7.5),(7.9,5),(8.0,5),(8.1,5),(8.15,6.5),(8.3,3),(8.4,2),(8.5,2),(8.6,5),(8.7,9),(8.8,10),(8.9,4),(9.0,8),(9.1,12),(9.2,8),(9.3,8),(9.4,10),(9.5,17),(9.6,11),(9.7,9),(9.8,8),(9.9,7),(10.0,11),(10.1,9),(10.2,8),(10.3,9),(10.4,10),(10.5,11),(10.6,15),(10.7,12),(10.8,11),(10.9,9),(11.0,11),(11.1,9),(11.2,8),(11.3,9),(11.4,11),(11.5,13),(11.6,13),(11.7,7),(11.8,4),(11.9,5),(12.0,1),(12.2,0.5),(12.3,1.5),(12.4,0.5),(12.6,0.5),(12.65,3),(12.7,0.3),(12.97,0.3)]
PW_OBS_LO = [(1.0,0),(12.97,0)]
PW_MOD_HI = [(1.0,13),(1.05,18.5),(1.1,17),(1.2,16.5),(1.3,15),(1.4,14),(1.5,12),(1.6,10),(1.7,9),(1.8,9),(1.9,12),(2.0,16.5),(2.1,19.5),(2.2,14),(2.3,10),(2.4,7),(2.5,5),(2.6,4.5),(2.7,4.5),(2.8,5),(2.9,6),(3.0,8),(3.1,13),(3.2,8),(3.3,4),(3.4,3),(3.5,4),(3.6,5),(3.7,6),(3.8,8),(3.9,9),(4.0,12),(4.1,10),(4.2,5),(4.3,3),(4.4,3),(4.5,6),(4.6,10.5),(4.7,9),(4.8,10),(4.9,10.5),(5.0,7),(5.1,4),(5.2,2),(5.3,1.5),(5.4,3),(5.5,7.5),(5.6,7),(5.7,5),(5.8,5),(5.9,5),(6.0,1),(6.1,0.4),(6.5,0.4),(6.8,0.5),(6.9,1.5),(7.0,1),(7.2,0.5),(7.3,3),(7.4,10.5),(7.5,9),(7.6,6),(7.7,4),(7.8,3),(7.9,2),(8.0,1),(8.1,0.5),(8.2,0.5),(8.3,2),(8.4,3),(8.5,2),(8.6,1),(8.7,0.3),(8.8,0.5),(8.9,1),(9.0,2),(9.1,4),(9.2,8),(9.3,12),(9.4,14.5),(9.5,10),(9.6,6),(9.7,4),(9.8,3),(9.9,4),(10.0,5),(10.1,5),(10.2,8),(10.3,13),(10.4,8),(10.5,5),(10.6,2),(10.7,1),(10.8,6),(10.9,5),(11.0,5),(11.1,8),(11.2,11),(11.3,13),(11.4,11),(11.5,4),(11.6,1.5),(11.7,0.8),(11.8,0.5),(12.0,0.5),(12.5,0.3),(12.97,0.2)]
PW_MOD_LO = [(1.0,5),(1.1,8),(1.2,7),(1.3,6),(1.4,4),(1.5,3),(1.6,2.5),(1.7,2),(1.8,2.5),(1.9,3),(2.0,5),(2.1,6),(2.2,4),(2.3,2),(2.4,1.5),(2.5,1.5),(2.6,1.5),(2.7,1.2),(2.8,1),(2.9,1.2),(3.0,1.5),(3.1,2),(3.2,1.5),(3.3,1),(3.6,1),(3.7,1.5),(3.8,2),(3.9,2),(4.0,2.5),(4.1,2),(4.2,1),(4.3,0.8),(4.4,0.8),(4.5,1),(4.6,1.5),(4.7,1.8),(4.8,2),(4.9,1.8),(5.0,1.5),(5.1,1),(5.2,0.8),(5.3,0.6),(5.4,0.8),(5.5,1),(5.6,1.2),(5.7,1),(5.8,0.8),(5.9,0.5),(6.0,0.2),(6.5,0.2),(7.0,0.1),(7.3,0.2),(7.4,2),(7.5,2),(7.6,1),(7.7,0.5),(8.0,0.1),(9.0,0.2),(9.2,1),(9.3,2),(9.4,3),(9.5,2),(9.6,1),(9.8,0.8),(10.0,1),(10.2,1.5),(10.3,2),(10.4,1),(10.6,0.3),(10.8,0.8),(11.0,1),(11.2,1.5),(11.3,2),(11.4,1),(11.5,0.3),(11.6,0.1),(12.97,0.1)]

# 9 Middle R Port Wentworth
MR_OBS_HI = [(1.0,5),(1.05,8),(1.1,7),(1.2,5),(1.3,7),(1.4,5),(1.5,6.5),(1.6,4),(1.7,3.5),(1.8,3.5),(1.9,5),(2.0,3.5),(2.1,2),(2.2,1.5),(2.3,4),(2.4,8),(2.5,6),(2.6,4),(2.7,3.5),(2.8,6),(2.9,7.5),(3.0,6),(3.1,3),(3.2,5),(3.3,10),(3.4,14),(3.5,8),(3.6,4.5),(3.7,4),(3.8,8.5),(3.9,5),(4.0,4),(4.1,3.5),(4.2,6),(4.3,10),(4.35,13),(4.45,8),(4.6,4),(4.7,3.5),(4.8,3),(5.0,3),(5.1,2),(5.2,5),(5.3,11),(5.4,7),(5.5,4),(5.6,3),(5.7,2),(5.8,1.5),(5.9,0.8),(6.0,0.5),(6.2,0.5),(6.3,1.5),(6.4,0.3),(6.8,0.5),(6.9,3),(7.0,5),(7.1,7.5),(7.2,8),(7.3,8.5),(7.4,6),(7.5,4),(7.6,5),(7.7,6),(7.8,3),(7.9,2),(8.0,1.5),(8.1,1.5),(8.2,4),(8.3,2),(8.4,1.5),(8.5,1),(8.6,4),(8.7,3),(8.8,5.5),(8.9,2),(9.0,4),(9.1,7.5),(9.2,6),(9.3,5),(9.4,6),(9.5,13),(9.6,8),(9.7,7),(9.8,6),(9.9,5),(10.0,9),(10.1,7),(10.2,6),(10.3,5),(10.4,7),(10.5,8),(10.6,12),(10.7,11),(10.8,9),(10.9,6),(11.0,7),(11.1,6),(11.2,5),(11.3,6),(11.4,8.5),(11.5,8.5),(11.6,6),(11.7,5),(11.8,2),(11.9,1.5),(12.0,0.8),(12.2,0.5),(12.5,0.3),(12.6,0.8),(12.7,0.2),(12.97,0.2)]
MR_OBS_LO = [(1.0,0),(12.97,0)]
MR_MOD_HI = [(1.0,11),(1.05,16.5),(1.1,15),(1.2,15),(1.3,14),(1.4,12.5),(1.5,10),(1.6,8),(1.7,7),(1.8,6.5),(1.9,9),(2.0,15),(2.1,17.5),(2.2,12),(2.3,8),(2.4,6),(2.5,4.5),(2.6,4),(2.7,3.5),(2.8,3.5),(2.9,5),(3.0,8),(3.1,11),(3.2,7),(3.3,4),(3.4,3),(3.5,2.5),(3.6,3.5),(3.7,5),(3.8,6),(3.9,6.5),(4.0,10),(4.1,7),(4.2,4),(4.3,3),(4.4,3.5),(4.5,5),(4.6,7),(4.7,8.5),(4.8,8),(4.9,8),(5.0,8.5),(5.1,4),(5.2,2),(5.3,1.5),(5.4,3),(5.5,6),(5.6,6),(5.7,4.5),(5.8,4.5),(5.9,4),(6.0,1),(6.1,0.7),(6.5,0.4),(6.9,0.7),(7.0,0.8),(7.2,0.5),(7.3,1.5),(7.4,6),(7.5,9),(7.6,5),(7.7,3),(7.8,2),(7.9,1.5),(8.0,0.8),(8.2,0.5),(8.3,1),(8.4,2.5),(8.5,1.5),(8.6,0.5),(8.8,0.5),(9.0,1.5),(9.1,3),(9.2,6),(9.3,9),(9.4,12),(9.5,8),(9.6,5),(9.7,3),(9.8,2.5),(9.9,3),(10.0,4),(10.1,3.5),(10.2,6),(10.3,11),(10.4,7),(10.5,5),(10.6,2),(10.7,1),(10.8,3),(10.9,4),(11.0,4),(11.1,6),(11.2,8),(11.3,11),(11.4,9),(11.5,4),(11.6,1.5),(11.7,0.8),(11.8,0.5),(12.0,0.6),(12.3,0.5),(12.6,0.3),(12.97,0.2)]
MR_MOD_LO = [(1.0,7),(1.1,10),(1.2,9),(1.3,8),(1.4,6),(1.5,5),(1.6,4),(1.7,3.5),(1.8,3.5),(1.9,4.5),(2.0,7),(2.1,10),(2.2,6),(2.3,4),(2.4,3),(2.5,2.5),(2.6,2),(2.7,1.8),(2.8,1.8),(2.9,2),(3.0,3),(3.1,4),(3.2,3),(3.3,2),(3.4,1.5),(3.5,1.3),(3.6,1.5),(3.7,2),(3.8,2.5),(3.9,3),(4.0,4),(4.1,3),(4.2,1.8),(4.3,1.3),(4.4,1.3),(4.5,1.8),(4.6,2.5),(4.7,3.5),(4.8,3.5),(4.9,3.5),(5.0,3),(5.1,1.5),(5.2,0.8),(5.3,0.8),(5.4,1.2),(5.5,2),(5.6,2.5),(5.7,2),(5.8,1.5),(5.9,1),(6.0,0.5),(6.1,0.4),(7.0,0.1),(7.3,0.3),(7.4,2),(7.5,3.5),(7.6,2),(7.7,1.5),(7.8,1),(7.9,0.8),(8.0,0.3),(8.4,0.8),(8.6,0.2),(9.0,0.5),(9.1,1),(9.2,2),(9.3,3.5),(9.4,5),(9.5,4),(9.6,2),(9.7,1.5),(9.8,1.2),(9.9,1.5),(10.0,2),(10.1,2),(10.2,2.5),(10.3,4),(10.4,3),(10.5,1.5),(10.6,0.8),(10.7,0.5),(10.8,1.5),(10.9,2),(11.0,2),(11.1,2.5),(11.2,3),(11.3,4.5),(11.4,3),(11.5,1.5),(11.6,0.5),(11.7,0.3),(12.97,0.1)]

# 10 Little R Port Wentworth (021989792)
LR2_OBS_HI = [(1.0,5),(1.05,6.5),(1.1,4),(1.2,3.5),(1.3,3.5),(1.4,5.5),(1.45,6.5),(1.5,5),(1.6,4),(1.7,3.5),(1.8,2.5),(1.9,4.5),(2.0,5),(2.1,3),(2.2,2),(2.3,2),(2.4,2.5),(2.5,4),(2.6,2.5),(2.7,3),(2.8,3),(2.9,5),(3.0,3.5),(3.1,3),(3.2,2.5),(3.3,3),(3.4,7.5),(3.5,8.5),(3.6,4),(3.7,3),(3.8,3.5),(3.9,4),(4.0,3),(4.1,2),(4.2,2.5),(4.3,5),(4.35,7.5),(4.45,4.5),(4.6,3),(4.7,3),(4.8,3.5),(4.9,2.5),(5.0,2),(5.1,1.5),(5.2,2.5),(5.3,4.5),(5.35,6.5),(5.45,3.5),(5.6,2),(5.7,1.5),(5.8,1),(5.9,0.5),(6.0,0.3),(6.3,0.5),(6.7,0.3),(6.9,2),(7.0,3.5),(7.1,4),(7.2,5),(7.25,5.8),(7.3,5),(7.4,3.5),(7.5,3),(7.6,2.5),(7.7,2),(7.8,1.5),(7.9,1.5),(8.0,1),(8.1,2),(8.2,1.5),(8.3,1),(8.4,0.5),(8.6,1.5),(8.7,2.5),(8.8,2),(8.9,0.5),(9.0,3),(9.1,4),(9.2,3.5),(9.3,3),(9.4,2.5),(9.5,2.5),(9.6,3),(9.7,2.5),(9.8,2.5),(9.9,2),(10.0,2.5),(10.1,2.5),(10.2,3),(10.3,4),(10.4,3),(10.5,3),(10.6,6.5),(10.7,8.5),(10.8,6),(10.9,3),(11.0,2.5),(11.1,3),(11.2,3),(11.3,3),(11.4,2.5),(11.5,1),(11.6,1),(11.7,3.5),(11.8,3),(11.85,1.5),(12.0,0.3),(12.5,0.3),(12.6,0.5),(12.97,0.3)]
LR2_OBS_LO = [(1.0,0.5),(1.5,0.3),(2.0,0.5),(3.0,0.5),(4.0,0.8),(5.0,0.5),(6.0,0.2),(8.0,0),(9.0,0.2),(10.0,0.5),(11.0,0.3),(12.0,0),(12.97,0)]
LR2_MOD_HI = [(1.0,8),(1.05,16),(1.1,19.5),(1.15,18),(1.2,19.5),(1.3,19),(1.35,19.5),(1.4,18.5),(1.5,15.5),(1.6,12),(1.7,10),(1.8,11.5),(1.9,13.5),(2.0,18),(2.1,21),(2.2,18),(2.3,17),(2.4,13),(2.5,8),(2.6,6),(2.7,5),(2.8,6),(2.9,8),(3.0,10),(3.1,13.5),(3.2,8),(3.3,6),(3.4,4.5),(3.5,5),(3.6,5.5),(3.7,7.5),(3.8,9),(3.9,11),(4.0,14.5),(4.1,13),(4.2,8),(4.3,5),(4.4,5),(4.5,7),(4.6,10),(4.7,13.5),(4.8,12),(4.9,12),(5.0,9),(5.1,6),(5.2,4),(5.3,3.5),(5.4,5),(5.5,9),(5.6,10),(5.7,8),(5.8,8.5),(5.9,7.5),(6.0,2),(6.1,0.5),(6.5,0.5),(6.8,0.5),(6.9,2),(7.0,1.5),(7.2,1),(7.3,4),(7.4,11),(7.45,13.5),(7.5,10),(7.6,8),(7.7,6),(7.8,4),(7.9,2),(8.0,1.5),(8.1,1),(8.3,3),(8.4,4),(8.5,3),(8.6,1.5),(8.7,1),(8.9,1.5),(9.0,2.5),(9.1,4),(9.2,8),(9.3,14),(9.4,19),(9.5,13),(9.6,7),(9.7,6),(9.8,5),(9.9,6),(10.0,7),(10.1,7),(10.2,9),(10.3,17),(10.4,9),(10.5,8),(10.6,4),(10.7,2),(10.8,6),(10.9,6),(11.0,7),(11.1,9),(11.2,12),(11.3,15.5),(11.4,12),(11.5,7),(11.6,2.5),(11.7,1),(11.8,1),(12.0,0.8),(12.2,1.5),(12.3,0.8),(12.6,0.5),(12.97,0.3)]
LR2_MOD_LO = [(1.0,7.5),(1.1,11),(1.2,10),(1.3,9.5),(1.4,8.5),(1.5,7),(1.6,6),(1.7,5),(1.8,5),(1.9,6),(2.0,8),(2.1,10),(2.2,8),(2.3,5),(2.4,3.5),(2.5,2.5),(2.6,2),(2.9,2),(3.0,3),(3.1,4),(3.2,3),(3.3,2),(3.4,1.5),(3.6,1.5),(3.7,2),(3.8,2.5),(3.9,3),(4.0,4),(4.1,3.5),(4.2,2),(4.3,1.5),(4.4,1.5),(4.5,2),(4.6,3),(4.7,4),(4.8,4),(4.9,3.5),(5.0,3),(5.1,2),(5.2,1.5),(5.3,1.2),(5.4,1.2),(5.5,2),(5.6,2.5),(5.7,2),(5.8,2),(5.9,1.5),(6.0,0.5),(6.1,0.3),(7.0,0.2),(7.3,0.3),(7.4,2),(7.5,3),(7.6,2),(7.7,1.5),(7.8,1),(7.9,0.5),(8.0,0.3),(8.5,0.3),(8.7,0),(9.0,0.3),(9.1,0.8),(9.2,1.5),(9.3,3),(9.4,4.5),(9.5,3.5),(9.6,2),(9.7,1.5),(9.8,1.2),(9.9,1.5),(10.1,1.5),(10.2,2),(10.3,3),(10.4,2.5),(10.5,1.5),(10.6,0.8),(10.7,0.5),(10.8,1.5),(10.9,2),(11.1,2),(11.2,2.5),(11.3,3.5),(11.4,2.5),(11.5,1),(11.6,0.3),(11.7,0.2),(12.97,0.2)]

# 11 F&W Dock (model drawn as a line)
FW_OBS_HI = [(1.0,3),(1.05,4.5),(1.1,2),(1.2,1.5),(1.3,1),(1.4,1),(1.45,2.3),(1.5,2),(1.6,1.2),(1.7,0.8),(1.8,1),(1.9,2.5),(2.0,3.3),(2.1,1.5),(2.2,0.8),(2.3,0.5),(2.5,0.8),(2.6,1),(2.8,1.3),(2.9,2.5),(3.0,3.5),(3.1,2.5),(3.2,1.5),(3.3,1.2),(3.4,1),(3.5,1.5),(3.6,2.3),(3.7,1.5),(3.8,2.5),(3.9,1.5),(4.0,1.5),(4.1,1),(4.4,1),(4.5,1.5),(4.6,2),(4.7,2),(4.8,1.5),(4.9,1.5),(5.0,1),(5.1,0.8),(5.2,0.5),(5.3,1.5),(5.4,3),(5.5,3),(5.6,1.5),(5.7,0.8),(5.8,0.5),(6.0,0.3),(7.0,0.3),(7.2,0.5),(7.25,3.3),(7.45,3.5),(7.5,3),(7.6,1),(7.7,1.5),(7.8,0.5),(8.0,0.3),(8.3,0.5),(8.5,0.3),(8.7,0.3),(8.75,1.2),(8.8,0.5),(9.0,0.5),(9.1,1.8),(9.2,2.5),(9.3,2.5),(9.4,1.5),(9.5,1),(9.7,1),(9.8,2),(9.9,2),(10.0,2.5),(10.1,2),(10.2,3.5),(10.3,3),(10.4,1.5),(10.5,1),(10.6,1),(10.7,3),(10.8,4),(10.9,2),(11.1,2),(11.2,1),(11.3,1),(11.4,0.8),(11.6,0.5),(11.7,1),(11.75,2.7),(11.8,1),(11.9,0.5),(12.0,0.3),(12.97,0.3)]
FW_OBS_LO = [(1.0,0.5),(1.5,0.3),(2.0,0.5),(3.0,0.3),(5.0,0.3),(6.0,0.2),(12.97,0.1)]
FW_MOD = [(1.0,7.5),(1.05,9),(1.1,11),(1.15,12),(1.2,11),(1.25,11.5),(1.3,11),(1.35,10.5),(1.4,9.5),(1.45,8.5),(1.5,8.5),(1.55,7.5),(1.6,6.5),(1.7,5.5),(1.8,5),(1.85,5),(1.9,6),(1.95,7),(2.0,9),(2.05,10),(2.1,12.5),(2.15,11),(2.2,9.5),(2.25,7.5),(2.3,5.5),(2.4,4),(2.5,3),(2.6,2.5),(2.7,2.5),(2.8,2.2),(2.9,2.3),(3.0,3),(3.05,4),(3.1,5.5),(3.15,7),(3.2,5),(3.3,3.5),(3.4,2),(3.5,1.5),(3.6,1.8),(3.7,2),(3.8,2.5),(3.9,4),(4.0,4.5),(4.05,5.5),(4.1,5.5),(4.2,4),(4.3,2.5),(4.4,1.8),(4.5,1.8),(4.6,2.5),(4.7,4.5),(4.75,5.3),(4.8,4.5),(4.9,4),(5.0,5),(5.05,4.5),(5.1,3),(5.2,1.5),(5.3,0.8),(5.4,1),(5.5,2),(5.6,3.3),(5.7,3),(5.8,2),(5.9,2.2),(6.0,1),(6.1,0.6),(6.3,0.4),(6.6,0.2),(6.9,0.3),(7.0,0.4),(7.2,0.2),(7.3,0.5),(7.4,3),(7.5,5),(7.6,3),(7.7,1.8),(7.8,1.3),(7.9,0.8),(8.0,0.3),(8.2,0.2),(8.3,0.5),(8.45,1),(8.6,0.2),(8.8,0.1),(9.0,0.5),(9.1,1),(9.2,2),(9.3,5),(9.4,8),(9.5,4),(9.55,4.5),(9.6,2.5),(9.7,1.5),(9.9,1.5),(10.0,2.5),(10.1,1.5),(10.2,3),(10.3,7.5),(10.4,4),(10.5,3),(10.6,1),(10.7,0.5),(10.8,2),(10.9,2.5),(11.0,2.5),(11.1,2),(11.2,4),(11.3,6.5),(11.4,4.5),(11.5,1.5),(11.6,0.5),(11.7,0.3),(12.0,0.3),(12.5,0.2),(12.97,0.1)]

# 12 Lucknow Canal (model drawn as a line)
LC_OBS_HI = [(1.0,1.5),(1.05,2.5),(1.1,2),(1.2,1.2),(1.4,1),(1.5,1),(1.6,0.8),(1.8,0.7),(2.0,1.4),(2.1,1.3),(2.2,0.8),(2.3,0.6),(2.5,1.5),(2.6,2),(2.7,1.5),(2.8,1.5),(2.9,2.8),(3.0,3),(3.1,2),(3.2,1.3),(3.3,0.7),(3.4,0.8),(3.5,1),(3.6,1.5),(3.7,1),(3.8,1),(3.9,1.5),(4.0,2.2),(4.1,1),(4.2,0.8),(4.3,0.8),(4.4,1.5),(4.5,1.5),(4.6,1),(4.7,1.2),(4.8,1),(4.9,1),(5.0,1.2),(5.1,0.7),(5.2,0.6),(5.3,1),(5.4,2.5),(5.5,3),(5.6,2),(5.7,1),(5.8,0.8),(5.9,0.5),(6.0,0.3),(6.2,0.5),(6.5,0.4),(7.0,0.5),(7.2,0.8),(7.35,2),(7.5,1.8),(7.6,1),(7.7,0.7),(7.8,0.5),(8.0,0.5),(8.3,0.8),(8.4,1.3),(8.5,1),(8.6,0.7),(8.8,0.7),(9.0,1),(9.2,1),(9.3,1.5),(9.4,1.5),(9.5,0.8),(9.8,0.8),(10.0,1),(10.2,1),(10.3,1.5),(10.4,1.2),(10.5,0.8),(10.7,0.5),(10.8,1),(11.0,1),(11.2,1.2),(11.3,1.2),(11.4,0.8),(11.6,0.5),(11.8,0.5),(12.0,0.4),(12.97,0.3)]
LC_OBS_LO = [(1.0,0.2),(2.0,0.1),(6.0,0),(12.97,0)]
LC_MOD = [(1.0,6),(1.05,10),(1.1,11),(1.15,12),(1.2,10.5),(1.25,12),(1.3,11),(1.35,11),(1.4,10),(1.45,9.5),(1.5,9),(1.55,7),(1.6,6),(1.7,5),(1.8,4.5),(1.9,6),(2.0,9.5),(2.05,11),(2.1,13),(2.15,11),(2.2,9),(2.3,6.5),(2.4,4),(2.5,3),(2.6,2.5),(2.7,2.5),(2.8,2),(2.9,2),(3.0,3.5),(3.1,5),(3.15,7),(3.2,4.5),(3.3,3),(3.4,1.5),(3.5,1.5),(3.6,2),(3.7,2),(3.8,2.5),(3.9,4),(4.0,4),(4.05,5.5),(4.1,5),(4.2,3),(4.3,2),(4.4,1.5),(4.5,1.5),(4.6,2),(4.7,4.5),(4.8,5),(4.9,4),(5.0,5),(5.1,3),(5.2,1.5),(5.3,0.8),(5.4,0.8),(5.5,2),(5.6,3.5),(5.7,2.5),(5.8,2.5),(5.9,2),(6.0,0.8),(6.1,0.5),(6.5,0.3),(7.0,0.3),(7.2,0.2),(7.3,0.5),(7.4,2.5),(7.5,5),(7.6,3),(7.7,1.5),(7.8,1),(7.9,0.5),(8.0,0.2),(8.2,0.3),(8.4,1),(8.5,0.8),(8.6,0.2),(8.8,0.2),(9.0,0.5),(9.1,1),(9.2,2.5),(9.3,5),(9.4,8.5),(9.5,5),(9.55,4.5),(9.6,2.5),(9.7,1.5),(9.8,1.5),(9.9,2),(10.1,2),(10.2,4),(10.3,7),(10.4,4.5),(10.5,3.5),(10.6,1.5),(10.7,0.5),(10.8,2),(10.9,2.5),(11.1,2.5),(11.2,5),(11.3,7),(11.4,5),(11.5,2),(11.6,0.6),(11.7,0.4),(12.0,0.3),(12.5,0.2),(12.97,0.2)]

# per-panel assembly (obs segments as (hi, lo) pairs; model as band (hi, lo) or line)
OBS = [[(FP_OBS_HI, FP_OBS_LO)], [(EI_OBS_HI, EI_OBS_LO)], [(BR_OBS_HI_1, BR_OBS_LO_1), (BR_OBS_HI_2, BR_OBS_LO_2)],
       [(UD_OBS_HI, UD_OBS_LO)], [(GC_OBS_HI, GC_OBS_LO)], [(HI_OBS_HI, HI_OBS_LO)],
       [(LR1_OBS_HI, LR1_OBS_LO)], [(PW_OBS_HI, PW_OBS_LO)], [(MR_OBS_HI, MR_OBS_LO)],
       [(LR2_OBS_HI, LR2_OBS_LO)], [(FW_OBS_HI, FW_OBS_LO)], [(LC_OBS_HI, LC_OBS_LO)]]
MODEL = [("band", FP_MOD_HI, FP_MOD_LO), ("band", EI_MOD_HI, EI_MOD_LO), ("band", BR_MOD_HI, BR_MOD_LO),
         ("band", UD_MOD_HI, UD_MOD_LO), ("band", GC_MOD_HI, GC_MOD_LO), ("line", HI_MOD, None),
         ("band", LR1_MOD_HI, LR1_MOD_LO), ("band", PW_MOD_HI, PW_MOD_LO), ("band", MR_MOD_HI, MR_MOD_LO),
         ("band", LR2_MOD_HI, LR2_MOD_LO), ("line", FW_MOD, None), ("line", LC_MOD, None)]


def to_day(months):
    m = np.asarray(months, float)
    k = np.clip(np.floor(m).astype(int), 1, 12)
    starts = np.asarray(MONTH_START_DAY, float)
    return starts[k - 1] + (m - k) * (starts[k] - starts[k - 1])


def band_xy(hi, lo):
    th, vh = zip(*hi)
    tl, vl = zip(*lo)
    x = np.concatenate([to_day(th), to_day(tl)[::-1]])
    y = np.concatenate([np.asarray(vh, float), np.asarray(vl, float)[::-1]])
    return np.column_stack([x, y])


fig = plt.figure(figsize=(20, 12), dpi=300)
axs = fig.subplots(4, 3)
fig.subplots_adjust(left=0.026, right=0.9933, bottom=0.0269, top=0.9753, wspace=0.085, hspace=0.2)

stripe_levels = np.arange(10.5, 35.0, 1.0)

for i, ax in enumerate(axs.flat):
    # observations (red dots at integer levels above 10 PSU)
    for hi, lo in OBS[i]:
        poly = Polygon(band_xy(hi, lo), closed=True, facecolor='red', edgecolor='none', lw=0, zorder=2)
        ax.add_patch(poly)
        segs = [[(0, y), (X_END_DAY, y)] for y in stripe_levels]
        lc = LineCollection(segs, colors='white', linewidths=2.2, zorder=2.5)
        ax.add_collection(lc)
        lc.set_clip_path(poly)
    # model
    kind, a, b = MODEL[i]
    if kind == "band":
        mp = Polygon(band_xy(a, b), closed=True, facecolor='blue', edgecolor='blue', lw=0.7, zorder=3)
        ax.add_patch(mp)
    else:
        t, v = zip(*a)
        ax.plot(to_day(t), v, color='blue', lw=2.4, zorder=3, solid_joinstyle='round')

    ax.set_xlim(0, X_END_DAY)
    ax.set_ylim(0, 35)
    ax.set_xticks(MONTH_START_DAY[:12])
    ax.set_xticklabels(MONTH_LABELS)
    ax.set_yticks(Y_TICKS)
    ax.tick_params(labelsize=7.6)
    ax.set_axisbelow(True)
    ax.grid(True, axis='y', color='#e4e4e4', lw=1.0)
    ax.grid(True, axis='x', color='#e4e4e4', lw=0.6)
    ax.set_title(TITLES[i], fontsize=9, pad=5)
    ax.set_ylabel('Salinity (PSU)', fontsize=8.3)
    ax.text(0.05, 0.935, "depth=%.2f m below NAVD, tz=GMT" % DEPTHS[i], transform=ax.transAxes,
            fontsize=7.5, fontweight='bold', va='center', ha='left', zorder=10)
    if i == 0:
        handles = [Line2D([], [], marker='o', color='red', ls='', ms=3, label=OBS_LABEL),
                   Line2D([], [], color='blue', lw=1.5, label=MODEL_LABEL)]
        leg = ax.legend(handles=handles, loc='upper right', fontsize=6.5, framealpha=0.9)
        leg.set_zorder(20)

fig.savefig("out.png", dpi=300)
